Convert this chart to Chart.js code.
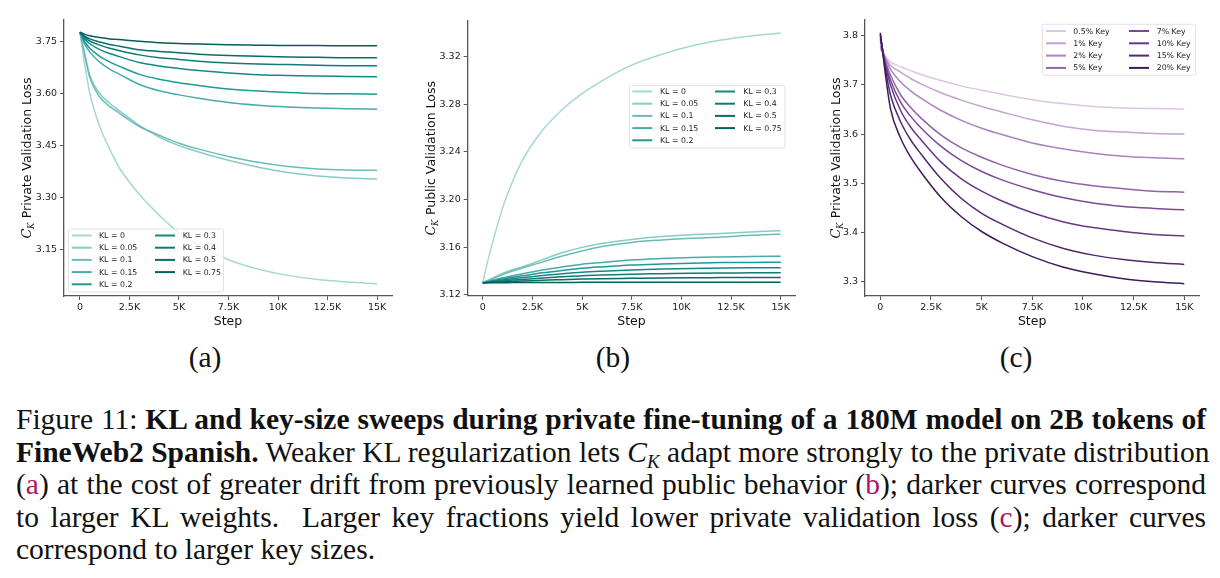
<!DOCTYPE html>
<html>
<head>
<meta charset="utf-8">
<script src="https://cdn.jsdelivr.net/npm/chart.js@4.4.1/dist/chart.umd.min.js"></script>
<style>
	body { margin: 0; background: #fff; }
	#fig { position: relative; width: 1220px; height: 578px; overflow: hidden; }
	canvas { position: absolute; top: 0; }
	.sub { position: absolute; top: 341px; width: 60px; margin-left: -30px; text-align: center;
		font-family: "Liberation Serif", serif; font-size: 29.5px; line-height: 32px; color: #111; }
	#caption { position: absolute; left: 16px; top: 403px; width: 1190px;
		font-family: "Liberation Serif", serif; font-size: 29.5px; line-height: 32.5px; color: #111; }
	.ln { height: 32.5px; white-space: nowrap; }
	.j { text-align: justify; text-align-last: justify; }
	.ref { color: #b0155f; }
	.ck { font-style: italic; }
	.ck sub { font-size: 19px; vertical-align: -6px; line-height: 0; }
</style>
</head>
<body>
<div id="fig">
	<canvas id="chartA" width="405" height="335" style="left:0"></canvas>
	<canvas id="chartB" width="405" height="335" style="left:405px"></canvas>
	<canvas id="chartC" width="410" height="335" style="left:810px"></canvas>
	<div class="sub" style="left:205px">(a)</div>
	<div class="sub" style="left:613px">(b)</div>
	<div class="sub" style="left:1016px">(c)</div>
	<div id="caption">
		<div class="ln j">Figure 11: <b>KL and key-size sweeps during private fine-tuning of a 180M model on 2B tokens of</b></div>
		<div class="ln j"><b>FineWeb2 Spanish.</b> Weaker KL regularization lets <span class="ck">C<sub>K</sub></span> adapt more strongly to the private distribution</div>
		<div class="ln j">(<span class="ref">a</span>) at the cost of greater drift from previously learned public behavior (<span class="ref">b</span>); darker curves correspond</div>
		<div class="ln j">to larger KL weights. &nbsp;Larger key fractions yield lower private validation loss (<span class="ref">c</span>); darker curves</div>
		<div class="ln">correspond to larger key sizes.</div>
	</div>
</div>
<script>
const steps = [0, 250, 500, 1000, 1500, 2000, 3000, 4000, 5000, 6000, 7500, 9000, 10500, 12000, 13500, 15000];

const xTickValues = [0, 2500, 5000, 7500, 10000, 12500, 15000];
const xTickLabels = ['0', '2.5K', '5K', '7.5K', '10K', '12.5K', '15K'];

const klLabels = ['KL = 0', 'KL = 0.05', 'KL = 0.1', 'KL = 0.15', 'KL = 0.2', 'KL = 0.3', 'KL = 0.4', 'KL = 0.5', 'KL = 0.75'];
const keyLabels = ['0.5% Key', '1% Key', '2% Key', '5% Key', '7% Key', '10% Key', '15% Key', '20% Key'];

const privateTicks = [3.15, 3.30, 3.45, 3.60, 3.75];
const publicTicks = [3.12, 3.16, 3.20, 3.24, 3.28, 3.32];
const keyTicks = [3.3, 3.4, 3.5, 3.6, 3.7, 3.8];

// (a) private validation loss per KL weight
const privKL0 = [3.776, 3.680, 3.600, 3.505, 3.440, 3.385, 3.310, 3.250, 3.200, 3.163, 3.122, 3.095, 3.077, 3.065, 3.058, 3.053];
const privKL005 = [3.776, 3.712, 3.652, 3.600, 3.572, 3.550, 3.508, 3.475, 3.450, 3.432, 3.408, 3.388, 3.373, 3.363, 3.357, 3.354];
const privKL01 = [3.776, 3.708, 3.645, 3.590, 3.563, 3.543, 3.505, 3.480, 3.457, 3.440, 3.419, 3.402, 3.390, 3.383, 3.380, 3.379];
const privKL015 = [3.776, 3.741, 3.719, 3.690, 3.670, 3.655, 3.626, 3.608, 3.596, 3.586, 3.574, 3.566, 3.561, 3.558, 3.556, 3.555];
const privKL02 = [3.776, 3.748, 3.730, 3.707, 3.691, 3.678, 3.655, 3.641, 3.631, 3.623, 3.613, 3.607, 3.603, 3.600, 3.599, 3.598];
const privKL03 = [3.776, 3.756, 3.743, 3.726, 3.715, 3.706, 3.689, 3.679, 3.672, 3.666, 3.659, 3.654, 3.652, 3.650, 3.649, 3.648];
const privKL04 = [3.776, 3.761, 3.751, 3.739, 3.730, 3.723, 3.711, 3.703, 3.698, 3.693, 3.688, 3.685, 3.683, 3.681, 3.680, 3.680];
const privKL05 = [3.776, 3.764, 3.757, 3.748, 3.741, 3.736, 3.726, 3.721, 3.717, 3.713, 3.709, 3.707, 3.705, 3.704, 3.703, 3.703];
const privKL075 = [3.776, 3.770, 3.766, 3.761, 3.757, 3.755, 3.750, 3.746, 3.744, 3.742, 3.740, 3.739, 3.738, 3.738, 3.737, 3.737];

// (b) public validation loss per KL weight
const pubKL0 = [3.130, 3.148, 3.164, 3.193, 3.215, 3.233, 3.258, 3.2755, 3.289, 3.2998, 3.313, 3.322, 3.329, 3.334, 3.3375, 3.340];
const pubKL005 = [3.130, 3.132, 3.134, 3.138, 3.141, 3.1435, 3.1495, 3.1553, 3.1598, 3.163, 3.1665, 3.169, 3.1705, 3.1715, 3.1728, 3.1738];
const pubKL01 = [3.130, 3.1318, 3.1335, 3.137, 3.140, 3.1425, 3.1475, 3.1525, 3.1568, 3.1605, 3.164, 3.166, 3.1675, 3.1685, 3.170, 3.171];
const pubKL015 = [3.130, 3.1311, 3.1322, 3.1343, 3.136, 3.1376, 3.1408, 3.1434, 3.1457, 3.1472, 3.1492, 3.1504, 3.1513, 3.1518, 3.1522, 3.1524];
const pubKL02 = [3.130, 3.1309, 3.1317, 3.1333, 3.1347, 3.1359, 3.1384, 3.1404, 3.1422, 3.1434, 3.1449, 3.1458, 3.1465, 3.147, 3.1472, 3.1474];
const pubKL03 = [3.130, 3.1306, 3.1313, 3.1324, 3.1334, 3.1343, 3.1361, 3.1376, 3.1389, 3.1398, 3.1409, 3.1416, 3.1421, 3.1424, 3.1426, 3.1427];
const pubKL04 = [3.130, 3.1304, 3.1309, 3.1316, 3.1323, 3.1329, 3.1341, 3.1351, 3.136, 3.1365, 3.1373, 3.1377, 3.1381, 3.1383, 3.1384, 3.1385];
const pubKL05 = [3.130, 3.1302, 3.1305, 3.1309, 3.1312, 3.1315, 3.1322, 3.1327, 3.1332, 3.1335, 3.1338, 3.1341, 3.1343, 3.1344, 3.1345, 3.1345];
const pubKL075 = [3.130, 3.130, 3.1301, 3.1301, 3.1302, 3.1302, 3.1303, 3.1303, 3.1304, 3.1304, 3.1305, 3.1305, 3.1306, 3.1306, 3.1306, 3.1306];

// (c) private validation loss per key fraction
const key05 = [3.772, 3.758, 3.747, 3.737, 3.729, 3.721, 3.709, 3.698, 3.689, 3.681, 3.670, 3.662, 3.656, 3.653, 3.652, 3.651];
const key1 = [3.776, 3.756, 3.740, 3.726, 3.713, 3.702, 3.684, 3.669, 3.656, 3.645, 3.629, 3.616, 3.608, 3.604, 3.601, 3.600];
const key2 = [3.780, 3.754, 3.732, 3.706, 3.688, 3.673, 3.648, 3.628, 3.612, 3.599, 3.582, 3.570, 3.561, 3.555, 3.552, 3.550];
const key5 = [3.790, 3.748, 3.720, 3.680, 3.654, 3.633, 3.598, 3.572, 3.553, 3.537, 3.518, 3.504, 3.495, 3.489, 3.484, 3.482];
const key7 = [3.795, 3.744, 3.710, 3.665, 3.636, 3.613, 3.575, 3.546, 3.524, 3.507, 3.487, 3.471, 3.460, 3.453, 3.449, 3.446];
const key10 = [3.800, 3.740, 3.700, 3.648, 3.614, 3.589, 3.543, 3.509, 3.484, 3.464, 3.440, 3.422, 3.410, 3.402, 3.396, 3.393];
const key15 = [3.803, 3.733, 3.680, 3.625, 3.588, 3.560, 3.509, 3.469, 3.439, 3.417, 3.389, 3.368, 3.354, 3.345, 3.339, 3.335];
const key20 = [3.806, 3.722, 3.652, 3.592, 3.553, 3.523, 3.471, 3.432, 3.402, 3.379, 3.351, 3.330, 3.316, 3.306, 3.300, 3.296];

const tealColors = ['#a3d8d5', '#87cbc7', '#6bbcb8', '#47aca8', '#1b9a96', '#138985', '#0f7a77', '#0c6b68', '#0a5c5a'];
const purpleColors = ['#dcc5e2', '#c4a3d0', '#ab83bd', '#9163ab', '#7b4998', '#673686', '#532772', '#3f1a5c'];

Chart.defaults.font.family = 'DejaVu Sans';
Chart.defaults.color = '#222';

function makePanel(id, series, labels, colors, cfg) {
	let datasets = series.map((vals, i) => ({
		label: labels[i],
		data: steps.map((s, j) => ({ x: s, y: vals[j] })),
		borderColor: colors[i],
		backgroundColor: colors[i],
		borderWidth: 1.5,
		pointRadius: 0,
		cubicInterpolationMode: 'monotone',
		order: series.length - i
	}));

	// y title with the C_K symbol, plus the two-column legend box
	let decor = {
		id: 'decor',
		afterDraw(chart) {
			const ctx = chart.ctx;
			const area = chart.chartArea;
			ctx.save();
			ctx.translate(cfg.titleX, (area.top + area.bottom) / 2);
			ctx.rotate(-Math.PI / 2);
			ctx.fillStyle = '#111';
			ctx.textBaseline = 'alphabetic';
			ctx.font = 'italic 13px "DejaVu Serif"';
			let wC = ctx.measureText('C').width;
			ctx.font = 'italic 8.5px "DejaVu Serif"';
			let wK = ctx.measureText('K').width;
			ctx.font = '12.5px "DejaVu Sans"';
			let rest = ' ' + cfg.title;
			let wT = ctx.measureText(rest).width;
			let x0 = -(wC + wK + wT) / 2;
			ctx.font = 'italic 13px "DejaVu Serif"';
			ctx.fillText('C', x0, 4.5);
			ctx.font = 'italic 8.5px "DejaVu Serif"';
			ctx.fillText('K', x0 + wC - 0.5, 7.5);
			ctx.font = '12.5px "DejaVu Sans"';
			ctx.fillText(rest, x0 + wC + wK, 4.5);
			ctx.restore();

			const lg = cfg.legend;
			ctx.save();
			ctx.beginPath();
			ctx.roundRect(lg.x, lg.y, lg.w, lg.h, 2);
			ctx.fillStyle = 'rgba(255,255,255,0.8)';
			ctx.fill();
			ctx.strokeStyle = '#e2e2e2';
			ctx.lineWidth = 1;
			ctx.stroke();
			let perCol = Math.ceil(labels.length / 2);
			ctx.font = '7.8px "DejaVu Sans"';
			ctx.textBaseline = 'middle';
			labels.forEach((lab, i) => {
				let col = lg.cols[Math.floor(i / perCol)];
				let y = lg.row0 + (i % perCol) * lg.rowGap;
				ctx.strokeStyle = colors[i];
				ctx.lineWidth = 2;
				ctx.beginPath();
				ctx.moveTo(col.line, y);
				ctx.lineTo(col.line + 20, y);
				ctx.stroke();
				ctx.fillStyle = '#222';
				ctx.fillText(lab, col.text, y + 0.5);
			});
			ctx.restore();
		}
	};

	return new Chart(document.getElementById(id), {
		type: 'line',
		data: { datasets: datasets },
		plugins: [decor],
		options: {
			responsive: false,
			animation: false,
			layout: { padding: { top: cfg.top, right: cfg.right, left: 0, bottom: 0 } },
			plugins: {
				legend: { display: false },
				tooltip: { enabled: false }
			},
			scales: {
				x: {
					type: 'linear',
					min: cfg.xMin,
					max: cfg.xMax,
					afterBuildTicks: axis => { axis.ticks = xTickValues.map(v => ({ value: v })); },
					afterFit: axis => { axis.height = cfg.xHeight; },
					ticks: {
						font: { size: 9.5 },
						color: '#222',
						padding: 2,
						maxRotation: 0,
						callback: (v, i) => xTickLabels[i]
					},
					grid: { drawOnChartArea: false, drawTicks: true, tickLength: 4, tickColor: '#555' },
					border: { color: '#555', width: 1.3 },
					title: { display: true, text: 'Step', font: { size: 12.5 }, color: '#111', padding: { top: 0, bottom: 6 } }
				},
				y: {
					min: cfg.yMin,
					max: cfg.yMax,
					afterBuildTicks: axis => { axis.ticks = cfg.yTicks.map(v => ({ value: v })); },
					afterFit: axis => { axis.width = cfg.yWidth; },
					ticks: {
						font: { size: 9.5 },
						color: '#222',
						padding: 3,
						callback: v => v.toFixed(cfg.digits)
					},
					grid: { drawOnChartArea: false, drawTicks: true, tickLength: 4, tickColor: '#555' },
					border: { color: '#555', width: 1.3 }
				}
			}
		}
	});
}

makePanel('chartA',
	[privKL0, privKL005, privKL01, privKL015, privKL02, privKL03, privKL04, privKL05, privKL075],
	klLabels, tealColors, {
		top: 20, right: 13, yWidth: 64, xHeight: 39,
		xMin: -805, xMax: 15755, yMin: 3.0177, yMax: 3.8113, yTicks: privateTicks, digits: 2,
		titleX: 26, title: 'Private Validation Loss',
		legend: { x: 68.5, y: 229, w: 155, h: 63, row0: 235.5, rowGap: 12.2,
			cols: [{ line: 71.7, text: 99 }, { line: 155, text: 182.7 }] }
	});

makePanel('chartB',
	[pubKL0, pubKL005, pubKL01, pubKL015, pubKL02, pubKL03, pubKL04, pubKL05, pubKL075],
	klLabels, tealColors, {
		top: 20.7, right: 14.7, yWidth: 62.7, xHeight: 39.3,
		xMin: -755, xMax: 15735, yMin: 3.1192, yMax: 3.3503, yTicks: publicTicks, digits: 2,
		titleX: 25, title: 'Public Validation Loss',
		legend: { x: 224.3, y: 85.3, w: 155.7, h: 62.7, row0: 91.5, rowGap: 12.2,
			cols: [{ line: 227.3, text: 255 }, { line: 310, text: 338.3 }] }
	});

makePanel('chartC',
	[key05, key1, key2, key5, key7, key10, key15, key20],
	keyLabels, purpleColors, {
		top: 20, right: 20.7, yWidth: 55, xHeight: 39,
		xMin: -755, xMax: 15740, yMin: 3.2709, yMax: 3.8319, yTicks: keyTicks, digits: 1,
		titleX: 25, title: 'Private Validation Loss',
		legend: { x: 232.3, y: 24.3, w: 153.4, h: 51, row0: 31, rowGap: 12.3,
			cols: [{ line: 236, text: 263.3 }, { line: 319, text: 346.7 }] }
	});
</script>
</body>
</html>
